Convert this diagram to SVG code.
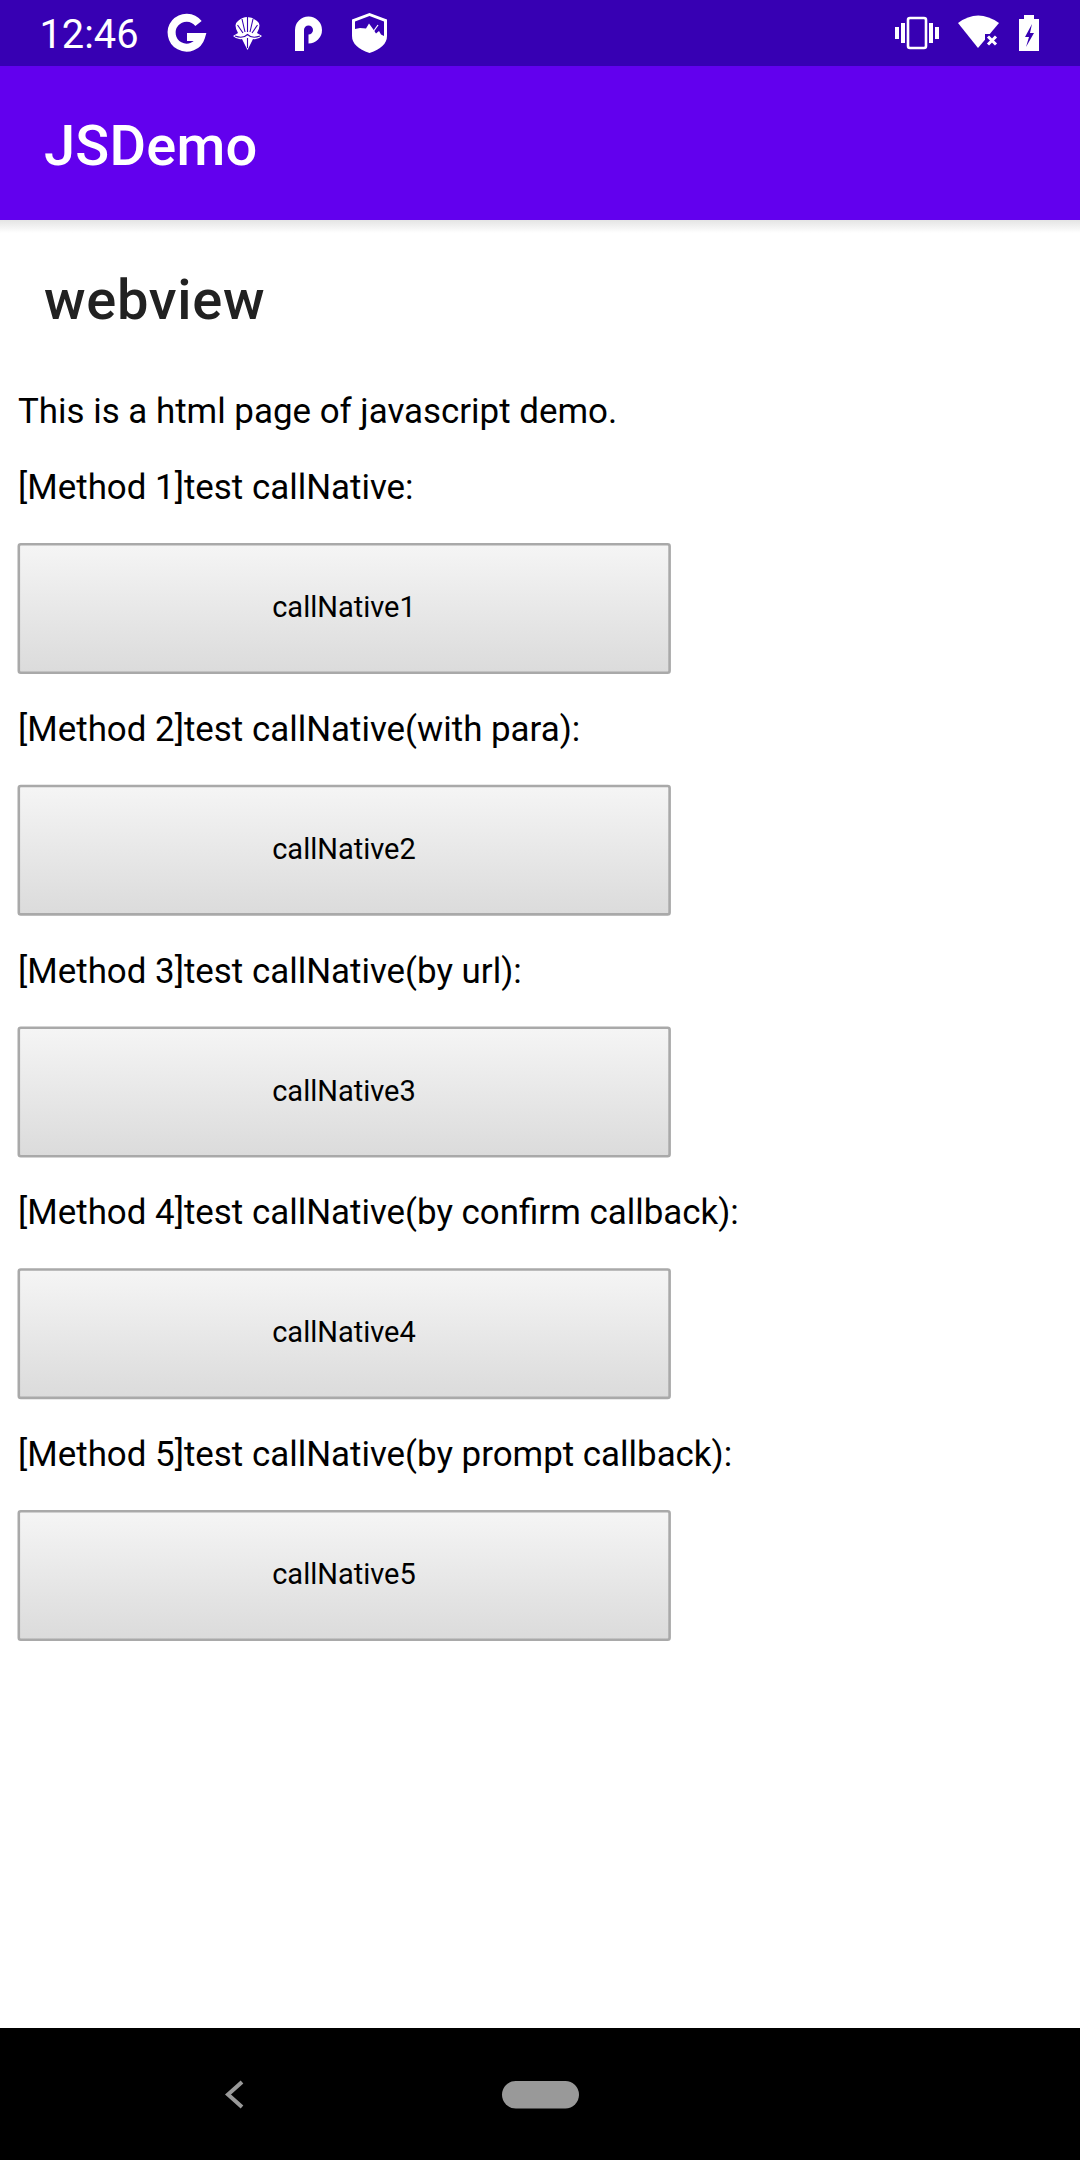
<svg xmlns="http://www.w3.org/2000/svg" width="1080" height="2160" viewBox="0 0 1080 2160">
<style>
text{font-family:Roboto,"Liberation Sans",sans-serif}
.body{font-size:34.9px;fill:#000}
.lbl{font-size:29px;fill:#000;text-anchor:middle}
.btn{fill:url(#bg);stroke:#a9a9a9;stroke-width:2.6}
.w{fill:#fff}
</style>
<defs>
<linearGradient id="bg" x1="0" y1="0" x2="0" y2="1"><stop offset="0" stop-color="#f5f5f5"/><stop offset="1" stop-color="#dbdbdb"/></linearGradient>
<linearGradient id="sh" x1="0" y1="0" x2="0" y2="1"><stop offset="0" stop-color="#e4e4e4"/><stop offset="1" stop-color="#fff"/></linearGradient>
</defs>
<rect width="1080" height="2160" fill="#fff"/>
<g id="status-bar">
<rect width="1080" height="66" fill="#3700b3"/>
<text x="39.500" y="48" font-size="39.800" fill="#fff">12:46</text>
<path d="M198.500 23.500A15 15 0 1 0 201 37H187" fill="none" stroke="#fff" stroke-width="8"/>
<g id="mask-icon"><path class="w" d="M238 33Q233 24 238 21Q247 13 257 21Q262 24 257 33L262 36Q258 40 253 39L247.500 50L242 39Q237 40 233 36Z"/><path d="M247.500 17V32M242 19L245 32M253 19L250 32M237.500 25L243 33M257.500 25L252 33M235 36Q243 39 247.500 34.500Q252 39 260 36M247.500 38V48" fill="none" stroke="#3700b3" stroke-width="1.100"/></g>
<path d="M299.500 51V30A9 9 0 1 1 308.500 39" fill="none" stroke="#fff" stroke-width="9"/>
<g id="shield-icon"><path d="M369.500 13L387 19.500V36Q387 47 369.500 53Q352 47 352 36V19.500Z" class="w"/><path d="M355 29V21.500L369.500 16L384 21.500V36L381 34.500L379 31L376 33.500L373 29L369 23.500L366 28.500L360 28Z" fill="#3700b3"/><path d="M373 32L378 25" stroke="#fff" stroke-width="1.200"/></g>
<g id="vibrate-icon"><rect x="908" y="18" width="18" height="30" rx="2" fill="none" stroke="#fff" stroke-width="2.600"/><path class="w" d="M895 27h4v12h-4zM901 23h4v20h-4zM929 23h4v20h-4zM935 27h4v12h-4z"/></g>
<g id="wifi-icon"><path class="w" d="M958 23Q978 8 999 23L978 48Z"/><path d="M985 34H1000V47H985Z" fill="#3700b3"/><path d="M988 36.500L996 44.500M996 36.500L988 44.500" stroke="#fff" stroke-width="3" fill="none"/></g>
<g id="battery-icon"><path class="w" d="M1024 15H1034V19H1039V51H1019V19H1024Z"/><path d="M1032 24L1025 37H1029L1026 47L1034 33H1030Z" fill="#3700b3"/></g>
</g>
<g id="app-bar">
<rect y="220" width="1080" height="13" fill="url(#sh)"/>
<rect y="66" width="1080" height="154" fill="#6200ee"/>
<text x="44" y="165" font-size="56" font-weight="500" letter-spacing="0.250" fill="#fff">JSDemo</text>
</g>
<g id="title"><text x="44" y="319" font-size="56" font-weight="500" letter-spacing="0.700" fill="#212121">webview</text></g>
<g id="page">
<text class="body" x="18" y="423">This is a html page of javascript demo.</text>
</g>
<g id="method1"><text class="body" x="18" y="499">[Method 1]test callNative:</text><rect class="btn" x="18.800" y="544.300" width="650.800" height="128.400" rx="2"/><text class="lbl" x="344" y="617">callNative1</text></g>
<g id="method2"><text class="body" x="18" y="741">[Method 2]test callNative(with para):</text><rect class="btn" x="18.800" y="786" width="650.800" height="128.400" rx="2"/><text class="lbl" x="344" y="859">callNative2</text></g>
<g id="method3"><text class="body" x="18" y="982.500">[Method 3]test callNative(by url):</text><rect class="btn" x="18.800" y="1027.800" width="650.800" height="128.400" rx="2"/><text class="lbl" x="344" y="1100.500">callNative3</text></g>
<g id="method4"><text class="body" x="18" y="1224">[Method 4]test callNative(by confirm callback):</text><rect class="btn" x="18.800" y="1269.500" width="650.800" height="128.400" rx="2"/><text class="lbl" x="344" y="1342">callNative4</text></g>
<g id="method5"><text class="body" x="18" y="1466">[Method 5]test callNative(by prompt callback):</text><rect class="btn" x="18.800" y="1511.300" width="650.800" height="128.400" rx="2"/><text class="lbl" x="344" y="1584">callNative5</text></g>
<g id="nav-bar">
<rect y="2028" width="1080" height="132" fill="#000"/>
<path d="M242 2082L228 2094.500L242 2107" fill="none" stroke="#999" stroke-width="4"/>
<rect x="502" y="2081" width="77" height="27.500" rx="13.700" fill="#999"/>
</g>
</svg>
